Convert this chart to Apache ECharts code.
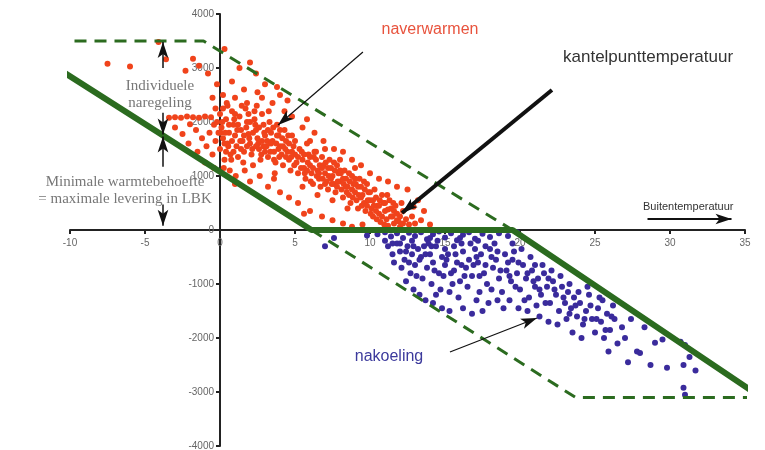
<!DOCTYPE html>
<html>
<head>
<meta charset="utf-8">
<script src="https://cdn.jsdelivr.net/npm/echarts@6/dist/echarts.min.js"></script>
<style>
  html, body { margin: 0; padding: 0; background: #fff; }
  #chart { width: 765px; height: 450px; }
</style>
</head>
<body>
<div id="chart"></div>
<script>
// buitentemperatuur (x) tegen warmte/koude vraag (y)
var xTicks = [-10, 35, 5]
var yTicks = [-4000, 4000, 1000]

// groene grenslijnen
var lbkLine = [[-13.7, 3500], [6.1, 0], [19.5, 0], [36.1, -3100]]     // minimale warmtebehoefte
var upperBand = [[-13.7, 3500], [-1.1, 3500], [19.5, 0]]              // bovengrens naverwarmen
var lowerBand = [[6.1, 0], [23.7, -3100], [36.1, -3100]]              // ondergrens nakoeling

// naverwarmen (rood)
var heatPoints = [
  [-7.5, 3080], [-6.0, 3030], [-4.1, 3480], [-3.6, 3160], [-1.8, 3170], [-1.4, 3040], [-0.8, 2900], [-2.3, 2950],
  [-3.4, 2080], [-3.0, 2090], [-2.6, 2080], [-2.2, 2100], [-1.8, 2090], [-1.4, 2080], [-1.0, 2100], [-0.6, 2090],
  [-2.0, 1960], [-3.0, 1900], [-2.5, 1780], [-1.6, 1850], [-1.2, 1700], [-0.7, 1800], [-0.4, 1950], [-0.9, 1550],
  [-0.3, 1650], [-1.5, 1450], [-0.5, 1400], [-2.1, 1600], [-1.0, 1250], [-0.4, 1150],
  [0.3, 3350], [1.3, 3000], [2.0, 3100], [2.4, 2900], [0.8, 2750], [1.6, 2600], [3.0, 2700], [0.2, 2500],
  [1.0, 2450], [2.8, 2450], [3.5, 2350], [4.0, 2500], [4.3, 2200], [0.5, 2300], [1.8, 2350], [2.3, 2200],
  [-0.2, 2700], [-0.5, 2450],
  [0.0, 2150], [0.1, 1900], [0.2, 1700], [0.0, 1500], [0.3, 1300], [0.4, 2050], [0.6, 1800], [0.5, 1600],
  [0.7, 1400], [0.8, 2200], [0.9, 1950], [1.0, 1750], [1.1, 1550], [1.2, 1350], [1.3, 2100], [1.4, 1850],
  [1.5, 1650], [1.6, 1450], [1.7, 2250], [1.8, 2000], [1.9, 1780], [2.0, 1600], [2.1, 1400], [2.2, 1200],
  [2.3, 2050], [2.4, 1850], [2.5, 1700], [2.6, 1500], [2.7, 1300], [2.8, 2150], [2.9, 1950], [3.0, 1750],
  [3.1, 1550], [3.2, 1350], [3.3, 2000], [3.4, 1800], [3.5, 1650], [3.6, 1450], [3.7, 1250], [3.8, 1950],
  [3.9, 1750], [4.0, 1550], [4.1, 1400], [4.2, 1200], [4.3, 1850], [4.4, 1650], [4.5, 1450], [4.6, 1300],
  [4.7, 1100], [4.8, 1750], [4.9, 1550], [5.0, 1400], [5.1, 1250], [5.2, 1050],
  [0.15, 2000], [0.35, 1800], [0.55, 1550], [0.75, 1300], [0.25, 1150], [0.95, 2050], [1.15, 1850], [1.35, 1650],
  [1.55, 1250], [1.75, 1900], [1.95, 1700], [2.15, 1500], [2.35, 1950], [2.55, 1600], [2.75, 1400], [2.95, 1800],
  [3.15, 1650], [3.35, 1450], [3.55, 1900], [3.75, 1600], [3.95, 1350], [4.15, 1700], [4.35, 1500], [4.55, 1750],
  [4.75, 1350], [4.95, 1200], [0.45, 2350], [1.45, 2300], [2.45, 2300], [3.25, 2200], [0.65, 1100], [1.65, 1100],
  [2.65, 1000], [3.65, 1050], [1.05, 1000],
  [5.3, 1500], [5.5, 1300], [5.6, 1150], [5.7, 950], [5.8, 1600], [5.9, 1400], [6.0, 1200], [6.1, 1050],
  [6.2, 850], [6.3, 1450], [6.4, 1300], [6.5, 1100], [6.6, 950], [6.7, 800], [6.8, 1350], [6.9, 1200],
  [7.0, 1050], [7.1, 900], [7.2, 750], [7.3, 1300], [7.4, 1150], [7.5, 1000], [7.6, 850], [7.7, 700],
  [7.8, 1200], [7.9, 1050], [8.0, 900], [8.1, 750], [8.2, 600], [8.3, 1100], [8.4, 950], [8.5, 800],
  [8.6, 650], [8.7, 500], [8.8, 1000], [8.9, 850], [9.0, 700], [9.1, 550], [9.2, 400], [9.3, 950],
  [9.4, 800], [9.5, 650], [9.6, 500], [9.7, 350], [9.8, 850], [9.9, 700], [10.0, 550], [10.1, 400], [10.2, 250],
  [5.45, 1450], [5.65, 1050], [5.85, 1250], [6.05, 900], [6.25, 1350], [6.45, 1000], [6.65, 1200], [6.85, 950],
  [7.05, 1250], [7.25, 1000], [7.45, 850], [7.65, 1100], [7.85, 900], [8.05, 1050], [8.25, 850], [8.45, 700],
  [8.65, 900], [8.85, 600], [9.05, 850], [9.25, 650], [9.45, 450], [9.65, 750], [9.85, 550], [10.05, 300],
  [6.0, 1650], [7.0, 1500], [8.0, 1300], [9.0, 1150], [5.5, 800], [6.5, 650], [7.5, 550], [8.5, 400],
  [10.3, 750], [10.4, 600], [10.5, 450], [10.6, 300], [10.7, 150], [10.8, 650], [10.9, 500], [11.0, 350],
  [11.1, 200], [11.2, 80], [11.3, 550], [11.4, 400], [11.5, 250], [11.6, 120], [11.7, 450], [11.8, 300],
  [11.9, 160], [12.0, 60], [12.2, 350], [12.4, 200], [12.6, 100], [12.8, 250], [13.0, 120], [10.45, 200],
  [10.95, 100], [10.25, 450], [10.65, 550], [11.15, 650], [11.55, 500], [12.1, 500],
  [4.8, 2100], [5.5, 1900], [6.3, 1800], [6.9, 1650], [7.6, 1500], [8.2, 1450], [8.8, 1300], [9.4, 1200],
  [10.0, 1050], [10.6, 950], [11.2, 900], [11.8, 800], [12.5, 750], [13.2, 550], [13.6, 350], [12.9, 430],
  [13.4, 180], [14.0, 100], [5.8, 2050], [4.5, 2400], [3.8, 2650], [2.5, 2550],
  [3.2, 800], [4.0, 700], [4.6, 600], [5.2, 500], [6.0, 350], [6.8, 250], [7.5, 180], [8.2, 120],
  [8.8, 60], [9.5, 100], [3.6, 950], [2.0, 900], [1.0, 850], [5.6, 300],
  [0.05, 1800], [0.2, 2250], [0.4, 1450], [0.6, 1950], [0.8, 1650], [1.0, 2150], [1.2, 1950], [1.4, 1500],
  [1.6, 1750], [1.8, 1550], [2.0, 2000], [2.2, 1800], [2.4, 1550], [2.6, 1900], [2.8, 1650], [3.0, 1450],
  [3.2, 1850], [3.4, 1600], [3.6, 1300], [3.8, 1750], [4.0, 1850], [4.2, 1550], [4.4, 1350], [4.6, 1600],
  [4.8, 1450], [5.0, 1650], [5.2, 1350], [5.4, 1150], [5.6, 1400], [5.8, 1100], [6.0, 1350], [6.2, 1150],
  [6.4, 1450], [6.6, 1050], [6.8, 1150], [7.0, 850], [7.2, 1150], [7.4, 950], [7.6, 1250], [7.8, 800],
  [8.0, 1100], [8.2, 950], [8.4, 800], [8.6, 1050], [8.8, 750], [9.0, 950], [9.2, 800], [9.4, 600],
  [9.6, 900], [9.8, 450], [10.0, 700], [10.2, 550], [10.4, 350], [10.6, 450], [10.8, 250], [11.0, 500],
  [11.2, 380], [11.4, 250], [11.6, 350], [11.8, 180], [12.0, 250], [12.2, 120], [-0.2, 2000], [-0.1, 1800],
  [-0.3, 2250], [0.3, 1600], [0.9, 1450], [1.9, 2150], [2.9, 1550], [3.9, 1500]
]

// nakoeling (blauw)
var coolPoints = [
  [10.5, -80], [11.0, -40], [11.4, -120], [11.8, -60], [12.2, -150], [12.6, -50], [13.0, -110], [13.4, -40],
  [13.8, -170], [14.2, -80], [14.6, -30], [15.0, -140], [15.4, -60], [15.8, -190], [16.2, -90], [16.6, -40],
  [17.0, -160], [17.5, -70], [18.0, -130], [18.6, -60], [19.2, -110], [7.0, -300], [7.6, -150], [9.8, -100], [19.8, -40],
  [11.2, -300], [11.5, -450], [11.8, -250], [12.0, -400], [12.3, -550], [12.5, -300], [12.8, -450], [13.0, -650],
  [12.1, -700], [11.6, -600], [12.7, -800], [13.2, -350],
  [13.4, -500], [13.6, -300], [13.8, -700], [14.0, -450], [14.2, -600], [14.4, -300], [14.6, -800], [14.8, -500],
  [15.0, -650], [13.5, -900], [14.1, -1000], [14.7, -1100], [15.0, -350], [13.9, -250], [14.5, -200],
  [15.2, -450], [15.4, -800], [15.6, -300], [15.8, -600], [16.0, -950], [16.2, -400], [16.4, -700], [16.6, -550],
  [16.8, -850], [17.0, -350], [15.3, -1150], [15.9, -1250], [16.5, -1050], [17.1, -1300], [16.1, -250], [16.7, -250], [15.5, -1000],
  [17.2, -600], [17.4, -450], [17.6, -800], [17.8, -1000], [18.0, -350], [18.2, -700], [18.4, -550], [18.6, -900],
  [18.8, -1150], [19.0, -450], [17.3, -1150], [17.9, -1350], [18.5, -1300], [17.7, -300], [18.3, -250], [19.1, -750],
  [17.5, -1500], [18.9, -1450],
  [19.2, -600], [19.4, -950], [19.6, -400], [19.8, -800], [20.0, -1100], [20.2, -650], [20.4, -900], [20.6, -1250],
  [20.8, -750], [21.0, -1050], [19.3, -1300], [19.9, -1450], [20.5, -1500], [21.1, -1400], [19.5, -250], [20.1, -350],
  [20.7, -500], [21.0, -650],
  [21.2, -900], [21.4, -1200], [21.6, -800], [21.8, -1050], [22.0, -1350], [22.2, -950], [22.4, -1200], [22.6, -1500],
  [22.8, -1050], [23.0, -1350], [21.3, -1600], [21.9, -1700], [22.5, -1750], [21.5, -650], [22.1, -750], [22.7, -850], [23.1, -1650],
  [23.2, -1150], [23.4, -1450], [23.6, -1250], [23.8, -1600], [24.0, -1350], [24.2, -1750], [24.4, -1500], [24.6, -1200],
  [24.8, -1650], [25.0, -1900], [23.5, -1900], [24.1, -2000], [23.3, -1000], [24.5, -1050], [25.2, -1450],
  [25.4, -1700], [25.6, -2000], [25.8, -1550], [26.0, -1850], [26.3, -1650], [26.5, -2100], [26.8, -1800], [25.5, -1300],
  [26.2, -1400], [27.0, -2000], [25.9, -2250],
  [27.4, -1650], [27.8, -2250], [28.3, -1800], [29.0, -2090], [28.0, -2280], [28.7, -2500], [29.8, -2550], [30.9, -2500],
  [31.3, -2350], [30.7, -2070], [29.5, -2030], [31.0, -2130], [31.7, -2600], [30.9, -2920], [31.0, -3050], [27.2, -2450],
  [12.4, -950], [12.9, -1100], [13.3, -1200], [13.7, -1300], [14.2, -1350], [14.8, -1450], [15.3, -1500], [16.2, -1450],
  [16.8, -1550], [13.1, -850], [12.6, -600], [14.4, -1200],
  [11.0, -200], [11.5, -250], [12.0, -250], [12.4, -400], [12.9, -300], [13.3, -550], [13.7, -450], [14.1, -300],
  [14.3, -750], [14.9, -850], [15.1, -550], [15.7, -450], [15.6, -750], [16.1, -650], [16.3, -850], [16.9, -650],
  [17.1, -500], [17.3, -850], [17.7, -650], [18.1, -500], [18.1, -1100], [18.7, -750], [19.3, -850], [19.7, -1050],
  [19.9, -600], [20.3, -1300], [20.5, -800], [20.9, -950], [21.3, -1100], [21.7, -1350], [21.9, -900], [22.3, -1100],
  [22.9, -1250], [23.3, -1550], [23.7, -1400], [23.9, -1150], [24.3, -1650], [24.7, -1400], [25.1, -1650], [25.3, -1250],
  [25.7, -1850], [26.1, -1600], [16.0, -150], [17.2, -200], [18.5, -400], [19.5, -550], [14.0, -150], [12.8, -200]
]

// pijlen: [van, naar, dikte, pijlpuntgrootte]
var arrows = [
  [[9.53, 3296], [3.87, 1944], 1.2, 10],     // naverwarmen
  [[22.13, 2593], [12.13, 315], 4, 20],      // kantelpunttemperatuur
  [[15.33, -2259], [21.13, -1630], 1.2, 10], // nakoeling
  [[28.5, 204], [34.1, 204], 2, 10],         // buitentemperatuur
  [[-3.8, 3000], [-3.8, 3480], 1.5, 10],     // individuele naregeling
  [[-3.8, 2170], [-3.8, 1770], 1.5, 10],
  [[-3.8, 1170], [-3.8, 1730], 1.5, 10],     // minimale warmtebehoefte
  [[-3.8, 470], [-3.8, 80], 1.5, 10]
]

var green = '#2b6b1f'
var chart = echarts.init(document.getElementById('chart'))

var option = {
  animation: false,
  grid: { left: 70, right: 20, top: 14, bottom: 4, outerBoundsMode: 'none' },
  xAxis: {
    type: 'value',
    position: 'bottom',
    offset: -216, // kruist de y-as bij 0
    min: xTicks[0],
    max: xTicks[1],
    interval: xTicks[2],
    axisLine: { onZero: false, lineStyle: { color: '#222', width: 2 } },
    axisTick: { show: true, length: 4, lineStyle: { color: '#222', width: 2 } },
    axisLabel: {
      color: '#666', fontSize: 10, fontFamily: 'Liberation Sans', margin: 8,
      formatter: function (v) { return String(v) }
    },
    splitLine: { show: false }
  },
  yAxis: {
    type: 'value',
    position: 'left',
    offset: -150, // kruist de x-as bij 0
    min: yTicks[0],
    max: yTicks[1],
    interval: yTicks[2],
    axisLine: { onZero: false, lineStyle: { color: '#222', width: 2 } },
    axisTick: { show: true, length: 4, lineStyle: { color: '#222', width: 2 } },
    axisLabel: {
      color: '#666', fontSize: 10, fontFamily: 'Liberation Sans', margin: 6,
      formatter: function (v) { return String(v) }
    },
    splitLine: { show: false }
  },
  series: [
    {
      name: 'naverwarmen',
      type: 'scatter',
      data: heatPoints,
      symbolSize: 6,
      itemStyle: { color: '#f0431b', opacity: 1 },
      z: 3
    },
    {
      name: 'nakoeling',
      type: 'scatter',
      data: coolPoints,
      symbolSize: 6,
      itemStyle: { color: '#3a2b9c', opacity: 1 },
      z: 3
    },
    {
      type: 'line',
      data: lbkLine,
      clip: false,
      symbol: 'none',
      lineStyle: { color: green, width: 6 },
      z: 4
    },
    {
      type: 'line',
      data: upperBand,
      clip: false,
      symbol: 'none',
      lineStyle: { color: green, width: 3, type: [12, 8] },
      z: 4
    },
    {
      type: 'line',
      data: lowerBand,
      clip: false,
      symbol: 'none',
      lineStyle: { color: green, width: 3, type: [12, 8] },
      z: 4
    },
    {
      type: 'line',
      data: [],
      clip: false,
      z: 5,
      markLine: {
        silent: true,
        symbol: ['none', 'arrow'],
        label: { show: false },
        data: arrows.map(function (a) {
          return [
            { coord: a[0], symbolSize: a[3], lineStyle: { color: '#111', width: a[2], type: 'solid' } },
            { coord: a[1] }
          ]
        })
      }
    }
  ],
  graphic: [
    { type: 'text', x: 430, y: 30, style: { text: 'naverwarmen', fill: '#e8533d', font: '16px "Liberation Sans"', textAlign: 'center', textVerticalAlign: 'middle' } },
    { type: 'text', x: 563, y: 57, style: { text: 'kantelpunttemperatuur', fill: '#333', font: '17px "Liberation Sans"', textAlign: 'left', textVerticalAlign: 'middle' } },
    { type: 'text', x: 643, y: 207, style: { text: 'Buitentemperatuur', fill: '#333', font: '11px "Liberation Sans"', textAlign: 'left', textVerticalAlign: 'middle' } },
    { type: 'text', x: 389, y: 357, style: { text: 'nakoeling', fill: '#3c3a9c', font: '16px "Liberation Sans"', textAlign: 'center', textVerticalAlign: 'middle' } },
    { type: 'text', x: 160, y: 86, style: { text: 'Individuele', fill: '#777', font: '15px "Liberation Serif"', textAlign: 'center', textVerticalAlign: 'middle' } },
    { type: 'text', x: 160, y: 103, style: { text: 'naregeling', fill: '#777', font: '15px "Liberation Serif"', textAlign: 'center', textVerticalAlign: 'middle' } },
    { type: 'text', x: 125, y: 182, style: { text: 'Minimale warmtebehoefte', fill: '#777', font: '15px "Liberation Serif"', textAlign: 'center', textVerticalAlign: 'middle' } },
    { type: 'text', x: 125, y: 199, style: { text: '= maximale levering in LBK', fill: '#777', font: '15px "Liberation Serif"', textAlign: 'center', textVerticalAlign: 'middle' } }
  ]
}

chart.setOption(option)
</script>
</body>
</html>
